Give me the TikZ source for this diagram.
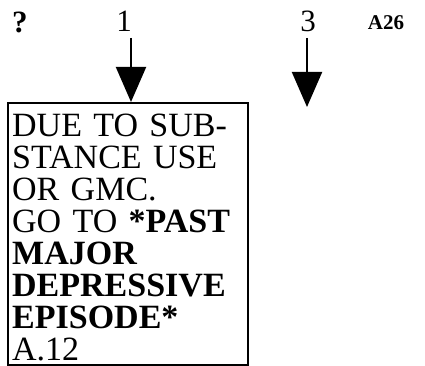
\documentclass[tikz,border=0pt]{standalone}
\usepackage{fontspec}
\setmainfont{Liberation Serif}
\usetikzlibrary{arrows.meta}
\tikzset{
  colnum/.style={font=\fontsize{31}{31}\selectfont, inner sep=0pt},
  downarrow/.style={line width=2pt, -{Triangle[width=30pt,length=35pt]}},
  frame/.style={draw, line width=1.6pt, minimum width=240pt, minimum height=262pt, inner sep=0pt},
  boxtext/.style={font=\fontsize{34}{32}\selectfont, text width=236pt, align=left, inner sep=0pt}
}
\begin{document}
\begin{tikzpicture}[x=1pt,y=-1pt]
  \useasboundingbox (0,0) rectangle (425,366);
  % Column labels
  \node[colnum, font=\fontsize{31}{31}\selectfont\bfseries] (q) at (20,22) {?};
  \node[colnum] (one) at (124,21) {1};
  \node[colnum] (three) at (308,21) {3};
  \node[font=\fontsize{21}{21}\selectfont\bfseries, inner sep=0pt] (tag) at (386,23) {A26};
  % Box
  \node[frame, anchor=north west] (box) at (7,102) {};
  \node[boxtext, anchor=north west] (txt) at (12,114) {DUE TO SUB-\\STANCE USE\\OR GMC.\\GO TO \textbf{*PAST}\\\textbf{MAJOR}\\\textbf{DEPRESSIVE}\\\textbf{EPISODE*}\\A.12};
  % Arrows
  \coordinate (s1) at (131,38);
  \coordinate (s3) at (307,38);
  \coordinate (t3) at (307,107);
  \draw[downarrow] (s1) -- (s1 |- box.north);
  \draw[downarrow] (s3) -- (t3);
\end{tikzpicture}
\end{document}
